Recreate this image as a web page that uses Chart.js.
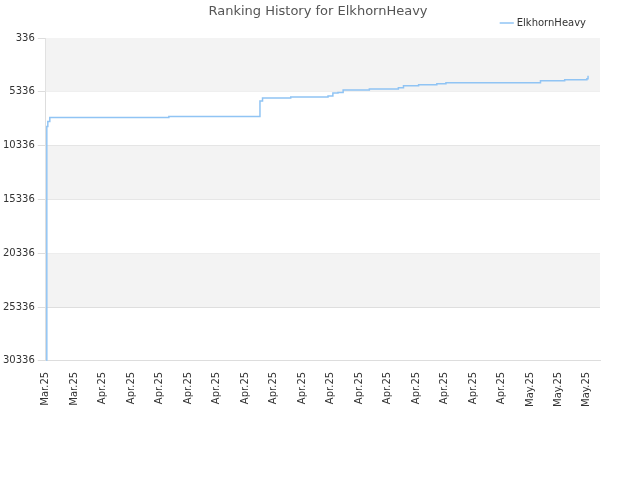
<!DOCTYPE html>
<html><head><meta charset="utf-8">
<script src="https://cdn.jsdelivr.net/npm/chart.js@4/dist/chart.umd.min.js"></script>
<style>html,body{margin:0;padding:0;background:#fff}#w{width:640px;height:480px}</style>
</head><body><div id="w"><canvas id="c"></canvas></div>
<script>
const tickLabels = ["Mar.25","Mar.25","Apr.25","Apr.25","Apr.25","Apr.25","Apr.25","Apr.25","Apr.25","Apr.25","Apr.25","Apr.25","Apr.25","Apr.25","Apr.25","Apr.25","Apr.25","May.25","May.25","May.25"];
const xPos = [0,0.035,0.07,0.14,4.32,7.5,7.52,7.61,8.6,9.91,10.08,10.26,10.44,11.36,12.38,12.56,13.09,13.73,14.05,17.37,18.22,19.0,19.04];
const ranks = [30336,8560,8100,7716,7620,7620,6200,5918,5820,5727,5440,5390,5160,5070,4970,4780,4690,4590,4500,4310,4215,4120,3836];
const yTicks = [336,5336,10336,15336,20336,25336,30336];

const bands = {id:'bands',beforeDatasetsDraw(ch){const {ctx,chartArea:a,scales:{y}}=ch;ctx.save();ctx.fillStyle='#f3f3f3';
 for(let i=0;i<yTicks.length-1;i+=2){const t=y.getPixelForValue(yTicks[i]),b=y.getPixelForValue(yTicks[i+1]);ctx.fillRect(a.left,t,a.right-a.left,b-t);}ctx.restore();}};
const title = {id:'ttl',afterDraw(ch){const ctx=ch.ctx;ctx.save();ctx.font='13px "DejaVu Sans"';ctx.fillStyle='#555';ctx.textAlign='center';ctx.textBaseline='middle';ctx.fillText('Ranking History for ElkhornHeavy',318,12);ctx.restore();}};

new Chart(document.getElementById('c'),{type:'line',
data:{datasets:[{label:'ElkhornHeavy',data:xPos.map((x,i)=>({x,y:ranks[i]})),borderColor:'#90c4f4',backgroundColor:'#90c4f4',borderWidth:1.5,pointRadius:0,stepped:true,fill:false}]},
options:{responsive:true,maintainAspectRatio:false,animation:false,
layout:{padding:{left:0,right:40,top:4,bottom:70}},
plugins:{title:{display:false},tooltip:{enabled:false},
legend:{position:'top',align:'end',labels:{usePointStyle:true,pointStyle:'line',boxWidth:12,font:{family:'DejaVu Sans',size:10},color:'#333',padding:14}}},
scales:{
x:{type:'linear',min:0,max:19.46,grid:{display:false},border:{color:'#ddd'},
 afterBuildTicks(s){s.ticks=tickLabels.map((_,i)=>({value:i}));},
 ticks:{autoSkip:false,maxRotation:90,minRotation:90,color:'#333',font:{family:'DejaVu Sans',size:10},callback:(v)=>tickLabels[Math.round(v)]}},
y:{reverse:true,min:336,max:30336,afterBuildTicks(s){s.ticks=yTicks.map(v=>({value:v}));},
 grid:{color:'#ddd'},border:{color:'#ddd'},ticks:{color:'#333',font:{family:'DejaVu Sans',size:10},callback:(v)=>String(v)}}}},
plugins:[bands,title]});
</script></body></html>
